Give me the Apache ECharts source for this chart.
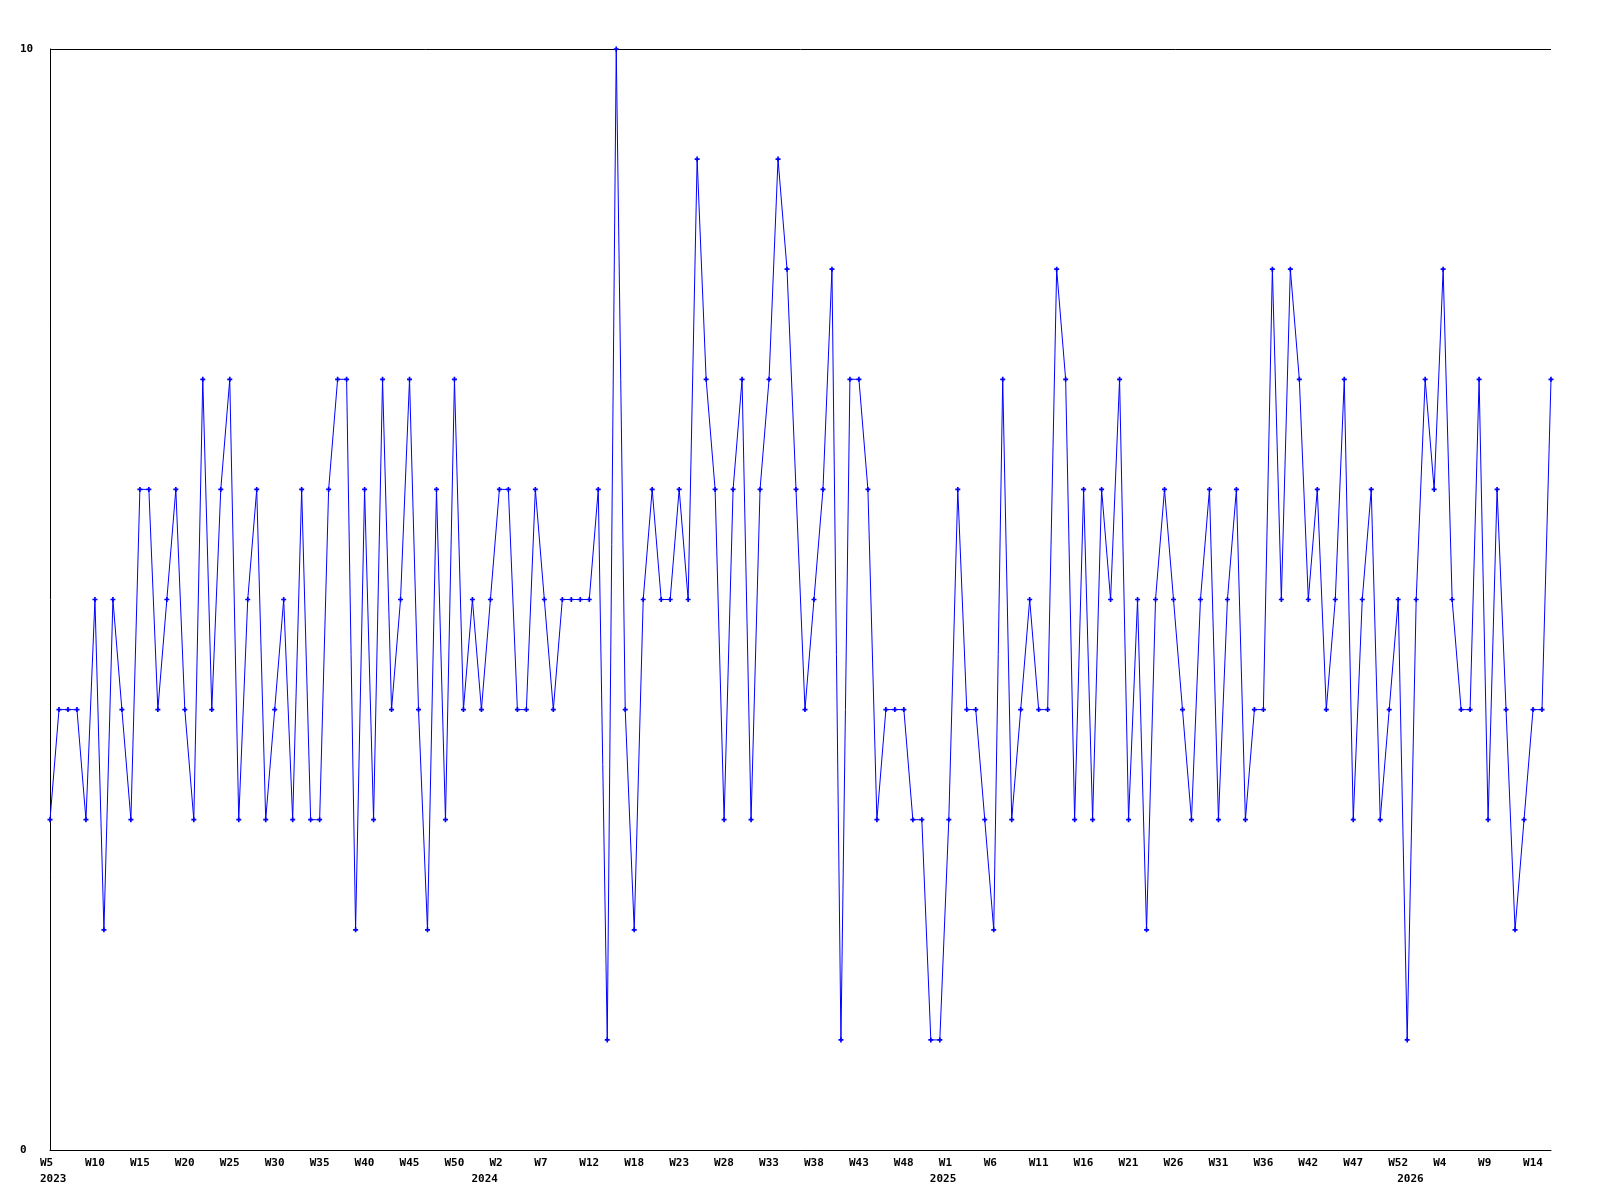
<!DOCTYPE html>
<html>
<head>
<meta charset="utf-8">
<script src="https://cdn.jsdelivr.net/npm/echarts@6/dist/echarts.min.js"></script>
<style>
  html, body { margin: 0; padding: 0; background: #ffffff; }
  #chart { width: 1600px; height: 1200px; }
</style>
</head>
<body>
<div id="chart"></div>
<script>
// Weekly values, 2023 W5 .. 2026 W15 (168 points)
const values = [
  3,4,4,4,3,5,2,5,4,3,6,6,4,5,6,4,3,7,4,6,7,3,5,6,3,4,5,3,
  6,3,3,6,7,7,2,6,3,7,4,5,7,4,2,6,3,7,4,5,4,5,6,6,4,4,6,5,4,
  5,5,5,5,6,1,10,4,2,5,6,5,5,6,5,9,7,6,3,6,7,3,6,7,9,8,6,
  4,5,6,8,1,7,7,6,3,4,4,4,3,3,1,1,3,6,4,4,3,2,7,3,4,5,4,4,
  8,7,3,6,3,6,5,7,3,5,2,5,6,5,4,3,5,6,3,5,6,3,4,4,8,5,8,7,
  5,6,4,5,7,3,5,6,3,4,5,1,5,7,6,8,5,4,4,7,3,6,4,2,3,4,4,7
];
// Week tick labels, one every 5 points
const tickStep = 5;
const weekTicks = [
  'W5','W10','W15','W20','W25','W30','W35','W40','W45','W50',
  'W2','W7','W12','W18','W23','W28','W33','W38','W43','W48',
  'W1','W6','W11','W16','W21','W26','W31','W36','W42','W47','W52',
  'W4','W9','W14'
];
// Year labels and the point index where each appears
const yearLabels = ['2023','2024','2025','2026'];
const yearIndex = [0, 48, 99, 151];
const yMin = 0, yMax = 10;

const categories = values.map((v, i) => (i % tickStep === 0 && weekTicks[i / tickStep]) ? weekTicks[i / tickStep] : ('p' + i));

const font = 'DejaVu Sans Mono';
const rich = { t: { width: 20, align: 'left', fontFamily: font, fontWeight: 'bold', fontSize: 11, color: '#000' } };

const chart = echarts.init(document.getElementById('chart'), null, { renderer: 'canvas' });
chart.setOption({
  animation: false,
  backgroundColor: '#ffffff',
  grid: { left: 50, right: 49, top: 49, bottom: 50, containLabel: false },
  xAxis: [
    {
      type: 'category',
      data: categories,
      boundaryGap: false,
      position: 'bottom',
      axisLine: { show: true, lineStyle: { color: '#000', width: 1 } },
      axisTick: { show: false },
      splitLine: { show: false },
      axisLabel: {
        show: true,
        interval: (i) => i % tickStep === 0,
        margin: 8,
        formatter: (val, i) => (i % tickStep === 0 && weekTicks[i / tickStep]) ? '{t|' + weekTicks[i / tickStep] + '}' : '',
        rich: rich
      }
    },
    {
      type: 'category',
      data: categories,
      boundaryGap: false,
      position: 'bottom',
      offset: 16,
      axisLine: { show: false },
      axisTick: { show: false },
      splitLine: { show: false },
      axisLabel: {
        show: true,
        interval: 0,
        margin: 8,
        formatter: (val, i) => { const k = yearIndex.indexOf(i); return k >= 0 ? '{t|' + yearLabels[k] + '}' : ''; },
        rich: rich
      }
    }
  ],
  yAxis: {
    type: 'value',
    min: yMin,
    max: yMax,
    interval: 10,
    axisLine: { show: true, lineStyle: { color: '#000', width: 1 } },
    axisTick: { show: false },
    splitLine: { show: true, lineStyle: { color: '#000', width: 1 } },
    axisLabel: {
      align: 'left',
      margin: 30,
      padding: [2, 0, 0, 0],
      fontFamily: font,
      fontWeight: 'bold',
      fontSize: 11,
      color: '#000'
    }
  },
  series: [{
    type: 'line',
    xAxisIndex: 0,
    data: values,
    symbol: 'path://M2,0H4V2H6V4H4V6H2V4H0V2H2Z',
    symbolSize: 5,
    showAllSymbol: true,
    itemStyle: { color: '#0000ff' },
    lineStyle: { color: '#0000ff', width: 1 },
    emphasis: { disabled: true }
  }]
});
</script>
</body>
</html>
